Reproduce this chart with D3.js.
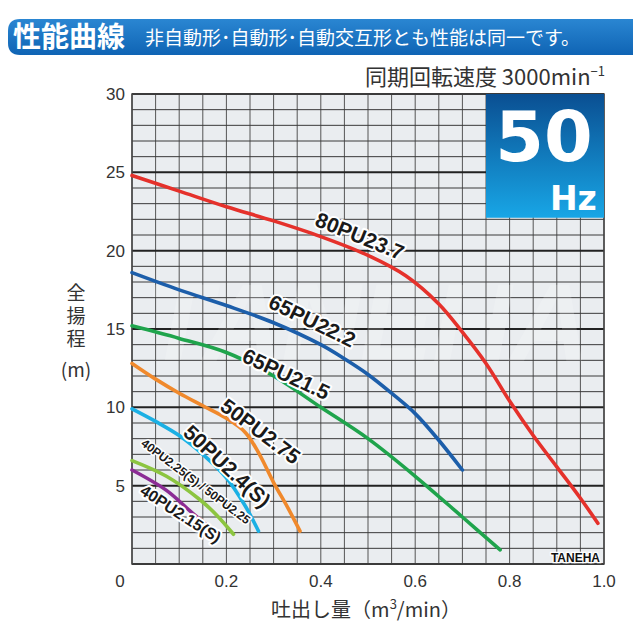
<!DOCTYPE html>
<html>
<head>
<meta charset="utf-8">
<script src="https://cdn.jsdelivr.net/npm/d3@7"></script>
<style>
  body { margin: 0; background: #fff; }
  svg { display: block; font-family: "Liberation Sans", Arial, sans-serif; }
  .jp { font-family: "Noto Sans CJK JP", sans-serif; }
</style>
</head>
<body>
<svg width="640" height="640"></svg>
<script>
// 吐出し量 (m3/min) と 全揚程 (m)
const red8023 = [[0, 24.8], [0.1, 23.8], [0.2, 22.8], [0.3, 21.9], [0.4, 20.9], [0.5, 19.7], [0.58, 18.4], [0.65, 16.6], [0.7, 14.8], [0.75, 12.8], [0.8, 10.4], [0.85, 8.2], [0.9, 6.2], [0.95, 4.2], [0.987, 2.6]]
const blue6522 = [[0, 18.6], [0.1, 17.5], [0.2, 16.5], [0.3, 15.4], [0.4, 14.0], [0.45, 13.1], [0.5, 12.1], [0.55, 10.9], [0.6, 9.6], [0.65, 7.9], [0.7, 6.0]]
const green6521 = [[0, 15.2], [0.1, 14.4], [0.2, 13.5], [0.3, 12.0], [0.4, 10.0], [0.5, 8.0], [0.6, 5.6], [0.7, 3.0], [0.78, 0.9]]
const orange5027 = [[0, 12.8], [0.05, 11.8], [0.1, 10.9], [0.15, 10.1], [0.2, 9.3], [0.24, 8.4], [0.27, 7.0], [0.3, 5.2], [0.33, 3.6], [0.356, 2.1]]
const cyan5024 = [[0, 9.9], [0.05, 9.1], [0.1, 8.2], [0.15, 7.0], [0.2, 5.5], [0.24, 3.7], [0.268, 2.1]]
const lime4022 = [[0, 6.6], [0.073, 5.6], [0.144, 4.1], [0.18, 3.1], [0.215, 1.9]]
const purple4021 = [[0, 6.0], [0.073, 4.7], [0.13, 3.2], [0.179, 2.0]]

const series = [
  { name: "80PU23.7", pts: red8023, color: "#e5312b" },
  { name: "65PU22.2", pts: blue6522, color: "#1c5eaa" },
  { name: "65PU21.5", pts: green6521, color: "#1fa44c" },
  { name: "50PU2.75", pts: orange5027, color: "#f0892c" },
  { name: "50PU2.4(S)", pts: cyan5024, color: "#1bb0e4" },
  { name: "40PU2.25(S) / 50PU2.25", pts: lime4022, color: "#8cc540" },
  { name: "40PU2.15(S)", pts: purple4021, color: "#8b2c95" }
]

// label baseline centre (Q, H), angle, size
const labels = [
  { text: "80PU23.7", q: 0.477, h: 20.5, rot: 22, size: 21 },
  { text: "65PU22.2", q: 0.375, h: 15.1, rot: 26, size: 21 },
  { text: "65PU21.5", q: 0.32, h: 11.7, rot: 25, size: 21 },
  { text: "50PU2.75", q: 0.263, h: 8.1, rot: 37, size: 21 },
  { text: "50PU2.4(S)", q: 0.191, h: 5.9, rot: 43, size: 21 },
  { text: "40PU2.25(S) / 50PU2.25", q: 0.13, h: 5.05, rot: 37, size: 12 },
  { text: "40PU2.15(S)", q: 0.097, h: 2.9, rot: 33, size: 16 }
]

const xTicks = [0, 0.2, 0.4, 0.6, 0.8, 1.0]
const yTicks = [5, 10, 15, 20, 25, 30]

const svg = d3.select("svg")
const plotL = 132, plotR = 604, plotT = 94, plotB = 564

const x = d3.scaleLinear().domain([0, 1]).range([plotL, plotR])
const y = d3.scaleLinear().domain([0, 30]).range([plotB, plotT])

const defs = svg.append("defs")
const hg = defs.append("linearGradient").attr("id", "hdr").attr("x1", 0).attr("x2", 0).attr("y1", 0).attr("y2", 1)
hg.append("stop").attr("offset", "0%").attr("stop-color", "#2a86d2")
hg.append("stop").attr("offset", "100%").attr("stop-color", "#0f64b4")
const bg = defs.append("linearGradient").attr("id", "badge").attr("x1", 0).attr("x2", 0).attr("y1", 0).attr("y2", 1)
bg.append("stop").attr("offset", "0%").attr("stop-color", "#0a4f92")
bg.append("stop").attr("offset", "100%").attr("stop-color", "#18a6e6")

// header bar
svg.append("path")
  .attr("d", "M 20 19 H 633 V 55 H 20 Q 8 55 8 43 V 31 Q 8 19 20 19 Z")
  .attr("fill", "url(#hdr)")
svg.append("text").attr("class", "jp")
  .attr("x", 13).attr("y", 47)
  .attr("font-size", 28).attr("font-weight", "bold").attr("fill", "#fff")
  .text("性能曲線")
svg.append("text").attr("class", "jp")
  .attr("x", 145).attr("y", 45)
  .attr("font-size", 19).attr("fill", "#fff")
  .text("非自動形･自動形･自動交互形とも性能は同一です。")

svg.append("text").attr("class", "jp")
  .attr("x", 605).attr("y", 85)
  .attr("text-anchor", "end")
  .attr("font-size", 22).attr("fill", "#333")
  .html('同期回転速度 3000min<tspan font-size="13" dy="-9">−1</tspan>')

// plot background + grid
svg.append("rect")
  .attr("x", plotL).attr("y", plotT)
  .attr("width", plotR - plotL).attr("height", plotB - plotT)
  .attr("fill", "#eaedf0")

svg.append("g").selectAll("line")
  .data(d3.range(0, 1.0001, 0.05))
  .join("line")
  .attr("x1", d => x(d)).attr("x2", d => x(d))
  .attr("y1", plotT).attr("y2", plotB)
  .attr("stroke", "#555").attr("stroke-width", 1)

svg.append("g").selectAll("line")
  .data(d3.range(0, 31, 1))
  .join("line")
  .attr("x1", plotL).attr("x2", plotR)
  .attr("y1", d => y(d)).attr("y2", d => y(d))
  .attr("stroke", d => d % 5 === 0 ? "#222" : "#3a3a3a")
  .attr("stroke-width", d => d % 5 === 0 ? 2 : 1)

svg.append("rect")
  .attr("x", plotL).attr("y", plotT)
  .attr("width", plotR - plotL).attr("height", plotB - plotT)
  .attr("fill", "none").attr("stroke", "#444").attr("stroke-width", 1.5)

// faint watermark over the grid
svg.append("text")
  .attr("x", 145).attr("y", 360)
  .attr("font-size", 110).attr("font-weight", "bold").attr("font-style", "italic")
  .attr("fill", "#fff").attr("fill-opacity", 0.18)
  .attr("textLength", 445).attr("lengthAdjust", "spacing")
  .text("TANEHA")

// 50Hz badge
svg.append("rect")
  .attr("x", x(0.75)).attr("y", y(30))
  .attr("width", x(1) - x(0.75)).attr("height", y(22.1) - y(30))
  .attr("fill", "url(#badge)")
svg.append("text")
  .attr("x", x(0.875) - 1).attr("y", 161)
  .attr("text-anchor", "middle")
  .attr("font-family", "DejaVu Sans, sans-serif")
  .attr("font-size", 70).attr("font-weight", "bold").attr("fill", "#fff")
  .text("50")
svg.append("text")
  .attr("x", x(0.935)).attr("y", 210)
  .attr("text-anchor", "middle")
  .attr("font-family", "DejaVu Sans, sans-serif")
  .attr("font-size", 33).attr("font-weight", "bold").attr("fill", "#fff")
  .text("Hz")

// curves
const line = d3.line()
  .x(d => x(d[0]))
  .y(d => y(d[1]))
  .curve(d3.curveCatmullRom.alpha(0.5))

svg.append("g").selectAll("path")
  .data(series)
  .join("path")
  .attr("d", d => line(d.pts))
  .attr("fill", "none")
  .attr("stroke", d => d.color)
  .attr("stroke-width", 3.6)
  .attr("stroke-linecap", "round")

// curve labels
svg.append("g").selectAll("text")
  .data(labels)
  .join("text")
  .attr("transform", d => `translate(${x(d.q)},${y(d.h)}) rotate(${d.rot})`)
  .attr("text-anchor", "middle")
  .attr("font-size", d => d.size)
  .attr("font-weight", "bold")
  .attr("fill", "#1a1a1a")
  .attr("stroke", "#fff")
  .attr("stroke-width", d => d.size > 12 ? 4 : 3)
  .attr("paint-order", "stroke")
  .attr("stroke-linejoin", "round")
  .text(d => d.text)

// axes labels
svg.append("g").selectAll("text")
  .data(yTicks)
  .join("text")
  .attr("x", 125).attr("y", d => y(d) + 6)
  .attr("text-anchor", "end")
  .attr("font-size", 17).attr("fill", "#333")
  .text(d => d)

svg.append("g").selectAll("text")
  .data(xTicks)
  .join("text")
  .attr("x", d => d === 0 ? x(d) - 12 : x(d)).attr("y", 587)
  .attr("text-anchor", "middle")
  .attr("font-size", 17).attr("fill", "#333")
  .text(d => d === 0 ? "0" : d3.format(".1f")(d))

svg.append("text").attr("class", "jp")
  .attr("x", 366).attr("y", 617)
  .attr("text-anchor", "middle")
  .attr("font-size", 20).attr("fill", "#333")
  .html('吐出し量（m<tspan font-size="13" dy="-8">3</tspan><tspan dy="8">/min）</tspan>')

// vertical axis title
svg.append("text").attr("class", "jp")
  .attr("x", 76).attr("y", 283)
  .attr("font-size", 19).attr("fill", "#333")
  .style("writing-mode", "vertical-rl")
  .attr("letter-spacing", 4)
  .text("全揚程")
svg.append("text").attr("class", "jp")
  .attr("x", 76).attr("y", 377)
  .attr("text-anchor", "middle")
  .attr("font-size", 19).attr("fill", "#333")
  .text("(m)")

svg.append("text")
  .attr("x", 600).attr("y", 562)
  .attr("text-anchor", "end")
  .attr("font-size", 12).attr("font-weight", "bold").attr("fill", "#111")
  .attr("stroke", "#fff").attr("stroke-width", 2.5).attr("paint-order", "stroke")
  .text("TANEHA")
</script>
</body>
</html>
